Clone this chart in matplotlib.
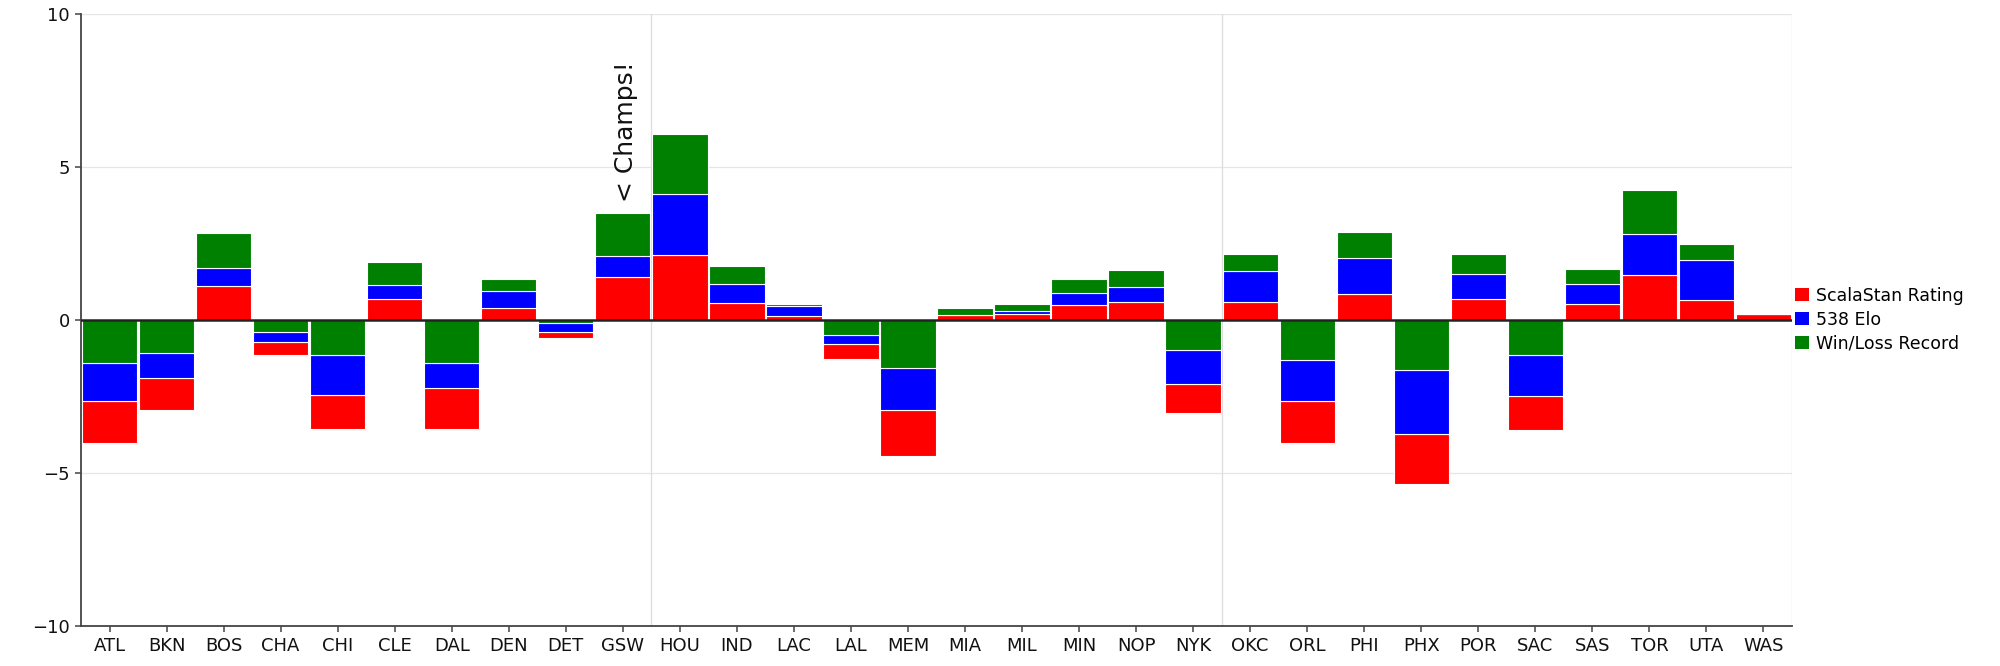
import numpy as np
import matplotlib
matplotlib.use("Agg")
import matplotlib.pyplot as plt
from matplotlib.patches import Patch

teams = ["ATL", "BKN", "BOS", "CHA", "CHI", "CLE", "DAL", "DEN", "DET", "GSW",
         "HOU", "IND", "LAC", "LAL", "MEM", "MIA", "MIL", "MIN", "NOP", "NYK",
         "OKC", "ORL", "PHI", "PHX", "POR", "SAC", "SAS", "TOR", "UTA", "WAS"]

scalastan = [-1.36, -1.04, 1.10, -0.43, -1.10, 0.67, -1.36, 0.39, -0.20, 1.40,
             2.10, 0.56, 0.12, -0.49, -1.53, 0.14, 0.20, 0.49, 0.57, -0.94,
             0.57, -1.35, 0.85, -1.65, 0.67, -1.10, 0.51, 1.47, 0.65, 0.18]
elo538 = [-1.25, -0.80, 0.58, -0.33, -1.32, 0.46, -0.80, 0.54, -0.30, 0.68,
          2.00, 0.62, 0.33, -0.29, -1.37, 0.02, 0.08, 0.39, 0.49, -1.11,
          1.03, -1.35, 1.15, -2.07, 0.83, -1.36, 0.65, 1.32, 1.29, 0.0]
winloss = [-1.42, -1.10, 1.15, -0.39, -1.15, 0.75, -1.42, 0.40, -0.10, 1.39,
           1.98, 0.56, 0.07, -0.50, -1.57, 0.22, 0.24, 0.46, 0.57, -1.00,
           0.56, -1.32, 0.86, -1.65, 0.65, -1.14, 0.49, 1.46, 0.54, 0.0]

series_names = ["ScalaStan Rating", "538 Elo", "Win/Loss Record"]
series_colors = ["#ff0000", "#0000ff", "#008000"]
series = [np.array(scalastan), np.array(elo538), np.array(winloss)]

champ_team = "GSW"

plt.rcParams["font.family"] = ["DejaVu Sans"]

fig = plt.figure(figsize=(20, 6.66), dpi=100)
ax = fig.add_axes([0.0405, 0.0605, 0.8555, 0.919])

x = np.arange(len(teams))

# positives stack red -> blue -> green upward, negatives green -> blue -> red downward
pos_base = np.zeros(len(teams))
neg_base = np.zeros(len(teams))
pos_bottoms = []
for v in series:
    pos_bottoms.append(pos_base.copy())
    pos_base += np.clip(v, 0, None)
neg_bottoms = [None] * 3
for i in [2, 1, 0]:
    neg_bottoms[i] = neg_base.copy()
    neg_base += np.clip(series[i], None, 0)

for i, v in enumerate(series):
    bottom = np.where(v >= 0, pos_bottoms[i], neg_bottoms[i])
    ax.bar(x, v, bottom=bottom, width=0.97, color=series_colors[i],
           edgecolor="white", linewidth=0.8, zorder=2)

ax.set_xlim(-0.5, len(teams) - 0.5)
ax.set_ylim(-10, 10)
ax.set_yticks([-10, -5, 0, 5, 10])
ax.set_xticks(x)
ax.set_xticklabels(teams)

for yv in [-5, 5, 10]:
    ax.axhline(yv, color="#e6e6e6", linewidth=0.9, zorder=0)
for xv in [9.5, 19.5, 29.5]:
    ax.axvline(xv, color="#dcdcdc", linewidth=0.9, zorder=0)
ax.axhline(0, color="#222222", linewidth=1.8, zorder=3)

for s in ["top", "right"]:
    ax.spines[s].set_visible(False)
for s in ["left", "bottom"]:
    ax.spines[s].set_color("#444444")
    ax.spines[s].set_linewidth(1.3)
ax.tick_params(axis="both", labelsize=13, colors="#444444", labelcolor="#111111",
               length=4.5, width=1.1)

ci = teams.index(champ_team)
ax.text(ci + 0.05, 3.85, "< Champs!", rotation=90, ha="center", va="bottom",
        fontsize=18, color="#111111")

handles = [Patch(facecolor=c, edgecolor="none") for c in series_colors]
ax.legend(handles, series_names, loc="center left", bbox_to_anchor=(1.002, 0.5),
          frameon=False, fontsize=12.5, handlelength=0.8, handleheight=0.8,
          handletextpad=0.4, labelspacing=0.35, borderpad=0, borderaxespad=0)

fig.savefig("out.png", dpi=100)
